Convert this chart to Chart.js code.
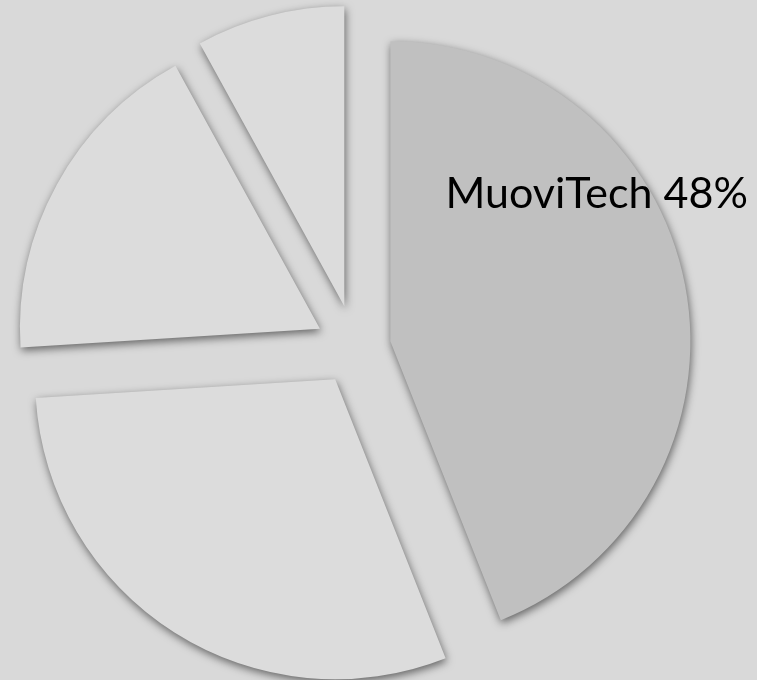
<!DOCTYPE html>
<html>
<head>
<meta charset="utf-8">
<script src="https://cdn.jsdelivr.net/npm/chart.js@4.4.1/dist/chart.umd.min.js"></script>
<style>
  html, body { margin: 0; padding: 0; background: #d9d9d9; }
  #wrap { width: 757px; height: 680px; }
</style>
</head>
<body>
<div id="wrap"><canvas id="pieChart" width="757" height="680"></canvas></div>
<script>
// slice shares
const categories = ["MuoviTech", "Other A", "Other B", "Other C"];
const shares = [44, 30, 18, 8];
const sliceLabels = ["MuoviTech 48%", "", "", ""];
const sliceColors = ["#c0c0c0", "#dcdcdc", "#dcdcdc", "#dcdcdc"];
// how far each slice is pulled out of the pie, in px
const sliceExplode = [36, 37, 40, 43];

function explodeShift(arc, i) {
  const mid = (arc.startAngle + arc.endAngle) / 2;
  return { dx: Math.cos(mid) * sliceExplode[i], dy: Math.sin(mid) * sliceExplode[i] };
}

// draws the library's arcs pulled out along their mid angle, with a soft shadow
const explodePlugin = {
  id: "explode",
  beforeDatasetDraw(chart, args) {
    const ctx = chart.ctx;
    ctx.save();
    ctx.shadowColor = "rgba(0,0,0,0.55)";
    ctx.shadowBlur = 8;
    ctx.shadowOffsetX = 1;
    ctx.shadowOffsetY = 3;
    args.meta.data.forEach((arc, i) => {
      const s = explodeShift(arc, i);
      ctx.save();
      ctx.translate(s.dx, s.dy);
      arc.draw(ctx, chart.chartArea);
      ctx.restore();
    });
    ctx.restore();
    return false;
  }
};

// text label placed relative to its pulled-out arc
const labelPlugin = {
  id: "sliceLabel",
  afterDatasetsDraw(chart) {
    const ctx = chart.ctx;
    const meta = chart.getDatasetMeta(0);
    meta.data.forEach((arc, i) => {
      const text = sliceLabels[i];
      if (!text) return;
      const s = explodeShift(arc, i);
      const a = arc.startAngle + (arc.endAngle - arc.startAngle) * 0.344;
      const r = arc.outerRadius * 0.845;
      ctx.save();
      ctx.font = "43px Lato";
      ctx.fillStyle = "#000";
      ctx.textAlign = "center";
      ctx.textBaseline = "middle";
      ctx.fillText(text, arc.x + s.dx + Math.cos(a) * r, arc.y + s.dy + Math.sin(a) * r);
      ctx.restore();
    });
  }
};

new Chart(document.getElementById("pieChart"), {
  type: "pie",
  data: {
    labels: categories,
    datasets: [{
      data: shares,
      backgroundColor: sliceColors,
      borderWidth: 0,
      radius: 300
    }]
  },
  options: {
    responsive: false,
    animation: false,
    layout: { padding: { left: 0, right: 47, top: 16, bottom: 0 } },
    plugins: {
      legend: { display: false },
      tooltip: { enabled: false }
    }
  },
  plugins: [explodePlugin, labelPlugin]
});
</script>
</body>
</html>
